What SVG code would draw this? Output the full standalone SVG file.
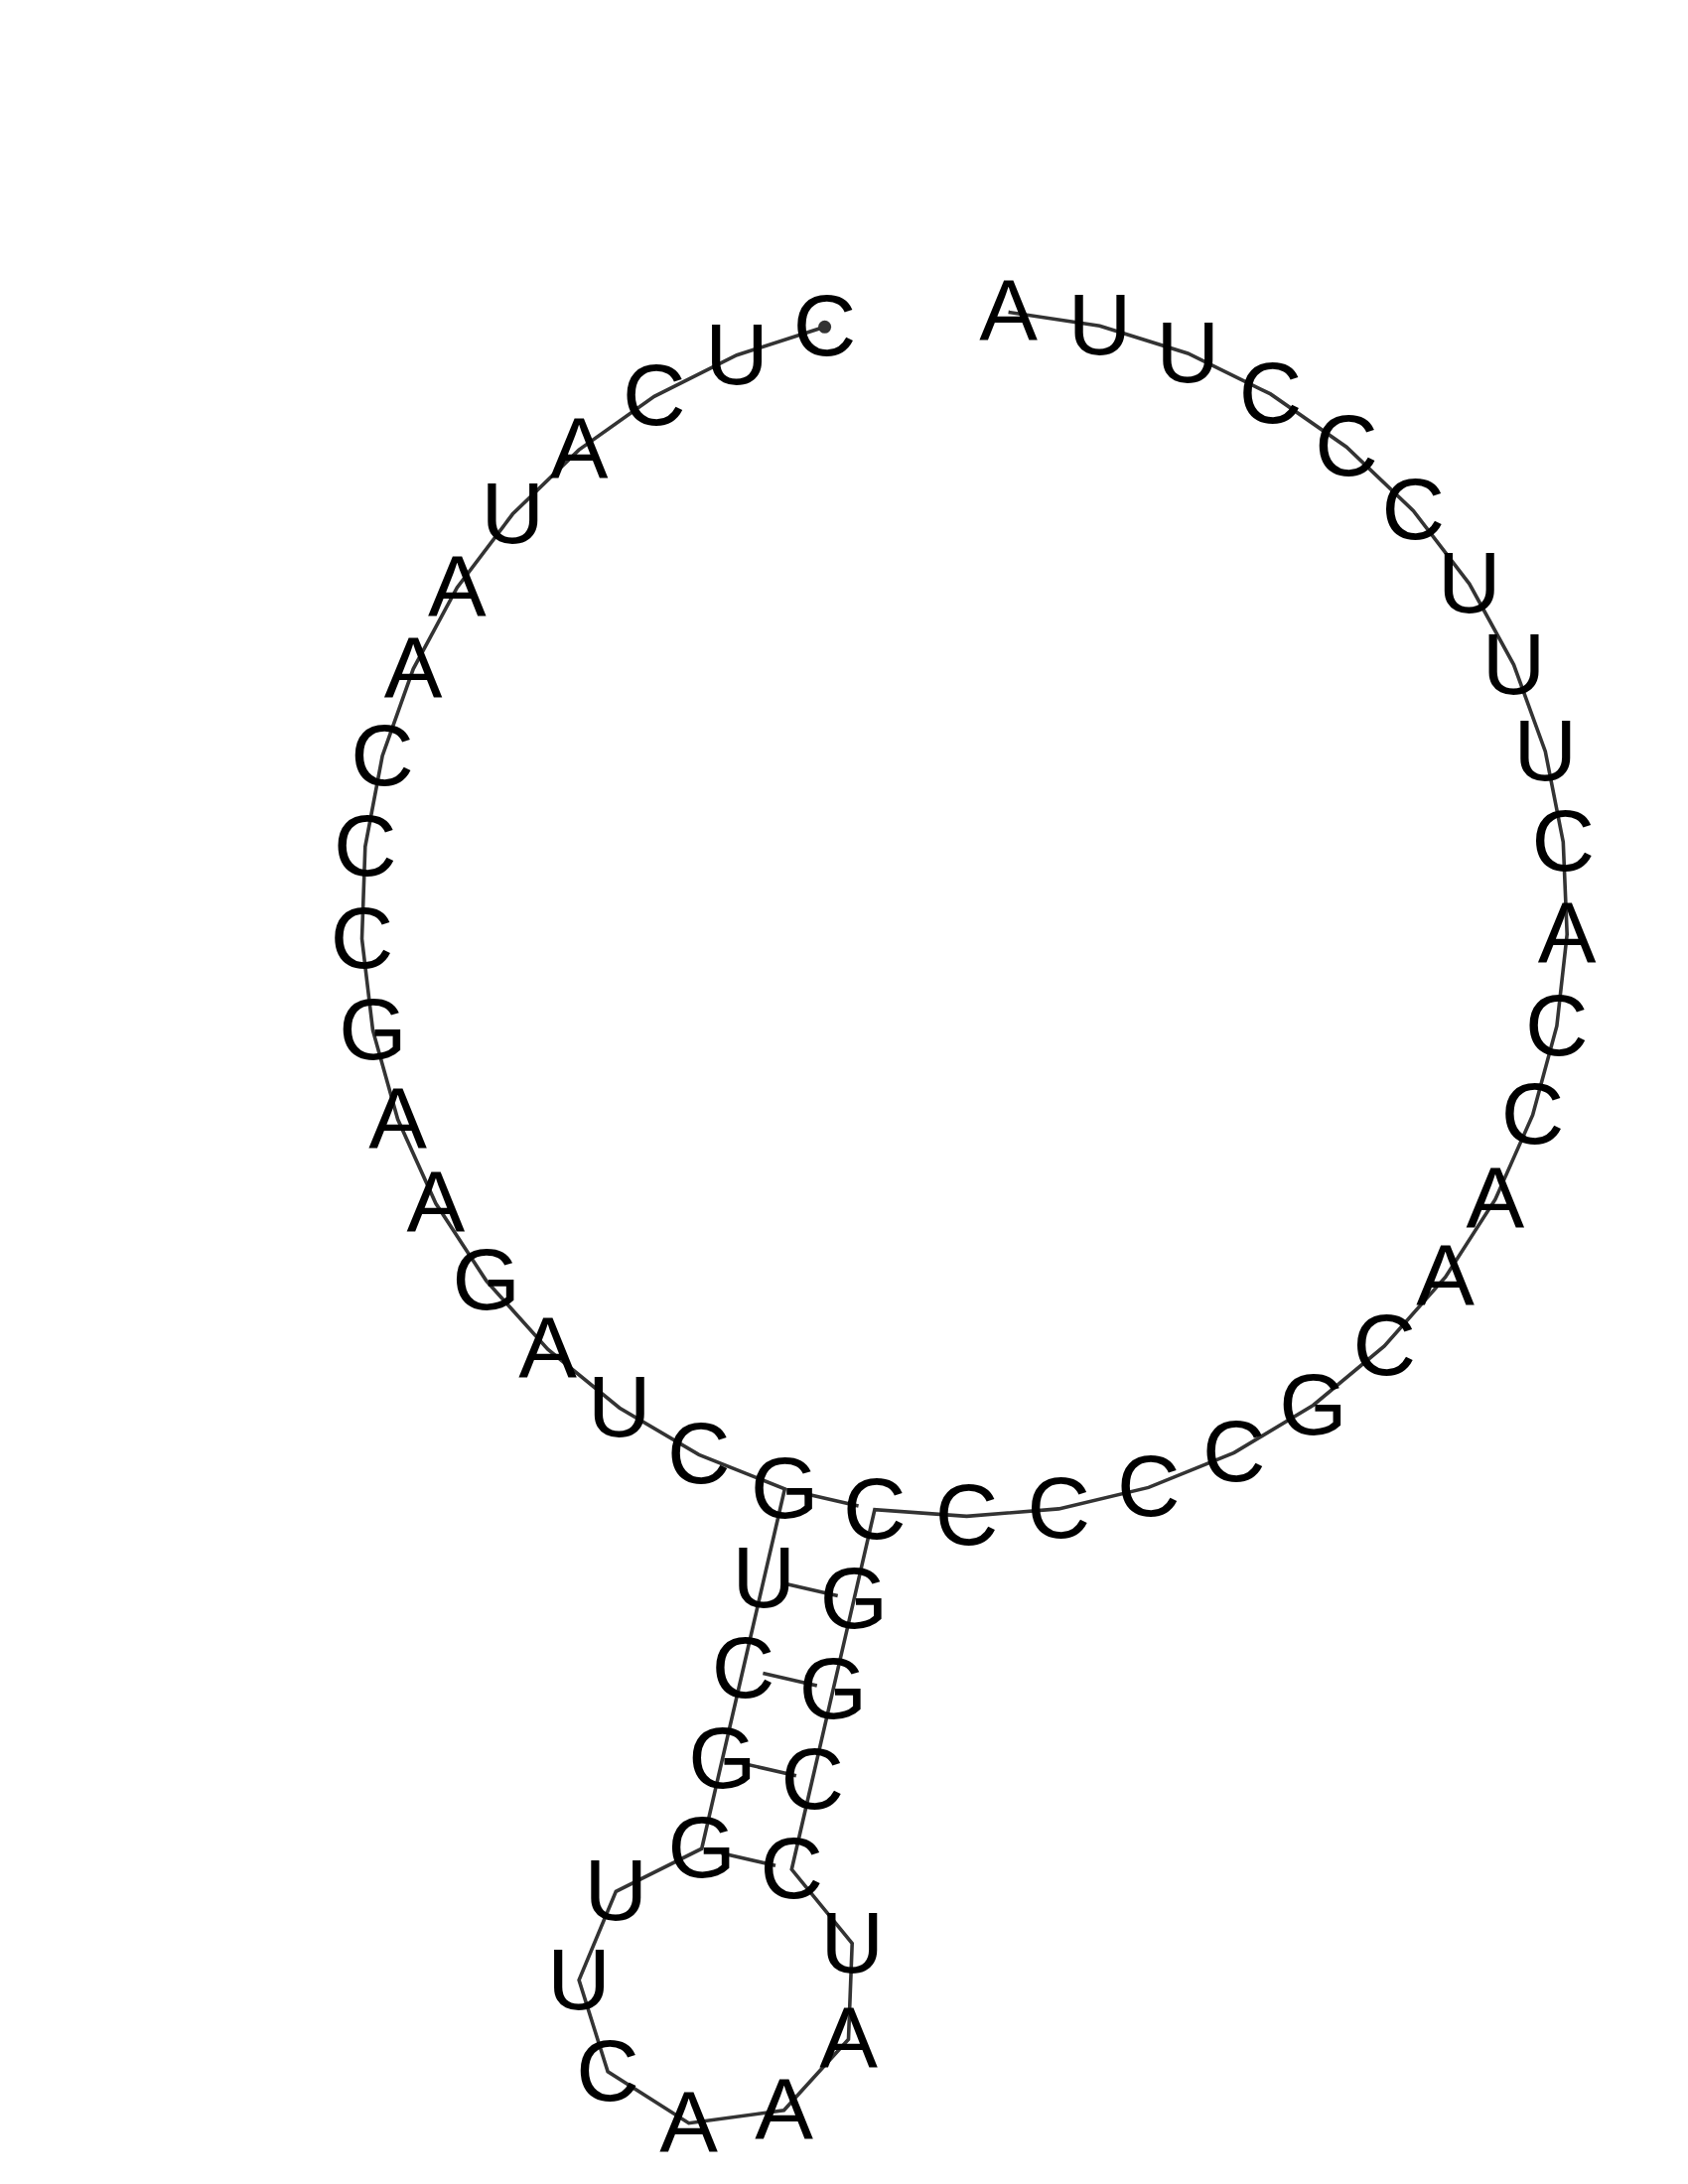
<svg xmlns="http://www.w3.org/2000/svg" width="1700" height="2200" viewBox="0 0 1700 2200">
<style>
.bb{fill:none;stroke:#333333;stroke-width:3.6;stroke-linejoin:miter}
.bp{stroke:#333333;stroke-width:3.6}
.nt{font-family:"Liberation Sans",Arial,Helvetica,sans-serif;font-size:88px;fill:#000000;text-anchor:middle}
</style>
<rect width="1700" height="2200" fill="#ffffff"/>
<g id="connectors">
<polyline class="bb" points="830.6,329.3 742.0,357.7 658.9,399.3 583.1,453.1 516.3,517.8 460.3,592.0 416.2,673.8 385.1,761.5 367.8,852.8 364.5,945.7 375.5,1038.0 400.6,1127.6 438.9,1212.3 489.7,1290.1 551.7,1359.2 623.9,1418.2 703.9,1465.4 790.3,1499.8 769.4,1590.4 748.5,1681.0 727.6,1771.6 706.7,1862.2 620.3,1905.4 583.1,1994.6 612.1,2086.8 693.7,2138.7 789.5,2125.8 854.5,2054.3 858.2,1957.7 797.3,1883.1 818.2,1792.5 839.1,1701.9 860.0,1611.3 880.9,1520.7 973.6,1527.4 1066.3,1519.9 1156.7,1498.4 1242.9,1463.3 1322.6,1415.5 1394.2,1356.0 1455.7,1286.4 1505.9,1208.2 1543.6,1123.2 1567.9,1033.5 1578.2,941.1 1574.3,848.2 1556.3,757.0 1524.5,669.6 1479.8,588.1 1423.3,514.4 1356.0,450.2 1279.6,396.9 1196.3,356.0 1107.5,328.3 1015.6,314.4"/>
<line class="bp" x1="810.2" y1="1504.4" x2="864.6" y2="1516.9"/>
<line class="bp" x1="789.3" y1="1595.0" x2="843.7" y2="1607.5"/>
<line class="bp" x1="768.4" y1="1685.6" x2="822.8" y2="1698.1"/>
<line class="bp" x1="747.5" y1="1776.2" x2="801.9" y2="1788.7"/>
<line class="bp" x1="726.6" y1="1866.8" x2="781.0" y2="1879.3"/>
<circle cx="830.6" cy="329.3" r="6.5" fill="#333333"/>
</g>
<g id="n1"><text class="nt" x="830.6" y="358.3">C</text></g>
<g id="n2"><text class="nt" x="742.0" y="386.7">U</text></g>
<g id="n3"><text class="nt" x="658.9" y="428.3">C</text></g>
<g id="n4"><text class="nt" x="583.1" y="482.1">A</text></g>
<g id="n5"><text class="nt" x="516.3" y="546.8">U</text></g>
<g id="n6"><text class="nt" x="460.3" y="621.0">A</text></g>
<g id="n7"><text class="nt" x="416.2" y="702.8">A</text></g>
<g id="n8"><text class="nt" x="385.1" y="790.5">C</text></g>
<g id="n9"><text class="nt" x="367.8" y="881.8">C</text></g>
<g id="n10"><text class="nt" x="364.5" y="974.7">C</text></g>
<g id="n11"><text class="nt" x="375.5" y="1067.0">G</text></g>
<g id="n12"><text class="nt" x="400.6" y="1156.6">A</text></g>
<g id="n13"><text class="nt" x="438.9" y="1241.3">A</text></g>
<g id="n14"><text class="nt" x="489.7" y="1319.1">G</text></g>
<g id="n15"><text class="nt" x="551.7" y="1388.2">A</text></g>
<g id="n16"><text class="nt" x="623.9" y="1447.2">U</text></g>
<g id="n17"><text class="nt" x="703.9" y="1494.4">C</text></g>
<g id="n18"><text class="nt" x="790.3" y="1528.8">G</text></g>
<g id="n19"><text class="nt" x="769.4" y="1619.4">U</text></g>
<g id="n20"><text class="nt" x="748.5" y="1710.0">C</text></g>
<g id="n21"><text class="nt" x="727.6" y="1800.6">G</text></g>
<g id="n22"><text class="nt" x="706.7" y="1891.2">G</text></g>
<g id="n23"><text class="nt" x="620.3" y="1934.4">U</text></g>
<g id="n24"><text class="nt" x="583.1" y="2023.6">U</text></g>
<g id="n25"><text class="nt" x="612.1" y="2115.8">C</text></g>
<g id="n26"><text class="nt" x="693.7" y="2167.7">A</text></g>
<g id="n27"><text class="nt" x="789.5" y="2154.8">A</text></g>
<g id="n28"><text class="nt" x="854.5" y="2083.3">A</text></g>
<g id="n29"><text class="nt" x="858.2" y="1986.7">U</text></g>
<g id="n30"><text class="nt" x="797.3" y="1912.1">C</text></g>
<g id="n31"><text class="nt" x="818.2" y="1821.5">C</text></g>
<g id="n32"><text class="nt" x="839.1" y="1730.9">G</text></g>
<g id="n33"><text class="nt" x="860.0" y="1640.3">G</text></g>
<g id="n34"><text class="nt" x="880.9" y="1549.7">C</text></g>
<g id="n35"><text class="nt" x="973.6" y="1556.4">C</text></g>
<g id="n36"><text class="nt" x="1066.3" y="1548.9">C</text></g>
<g id="n37"><text class="nt" x="1156.7" y="1527.4">C</text></g>
<g id="n38"><text class="nt" x="1242.9" y="1492.3">C</text></g>
<g id="n39"><text class="nt" x="1322.6" y="1444.5">G</text></g>
<g id="n40"><text class="nt" x="1394.2" y="1385.0">C</text></g>
<g id="n41"><text class="nt" x="1455.7" y="1315.4">A</text></g>
<g id="n42"><text class="nt" x="1505.9" y="1237.2">A</text></g>
<g id="n43"><text class="nt" x="1543.6" y="1152.2">C</text></g>
<g id="n44"><text class="nt" x="1567.9" y="1062.5">C</text></g>
<g id="n45"><text class="nt" x="1578.2" y="970.1">A</text></g>
<g id="n46"><text class="nt" x="1574.3" y="877.2">C</text></g>
<g id="n47"><text class="nt" x="1556.3" y="786.0">U</text></g>
<g id="n48"><text class="nt" x="1524.5" y="698.6">U</text></g>
<g id="n49"><text class="nt" x="1479.8" y="617.1">U</text></g>
<g id="n50"><text class="nt" x="1423.3" y="543.4">C</text></g>
<g id="n51"><text class="nt" x="1356.0" y="479.2">C</text></g>
<g id="n52"><text class="nt" x="1279.6" y="425.9">C</text></g>
<g id="n53"><text class="nt" x="1196.3" y="385.0">U</text></g>
<g id="n54"><text class="nt" x="1107.5" y="357.3">U</text></g>
<g id="n55"><text class="nt" x="1015.6" y="343.4">A</text></g>
</svg>
